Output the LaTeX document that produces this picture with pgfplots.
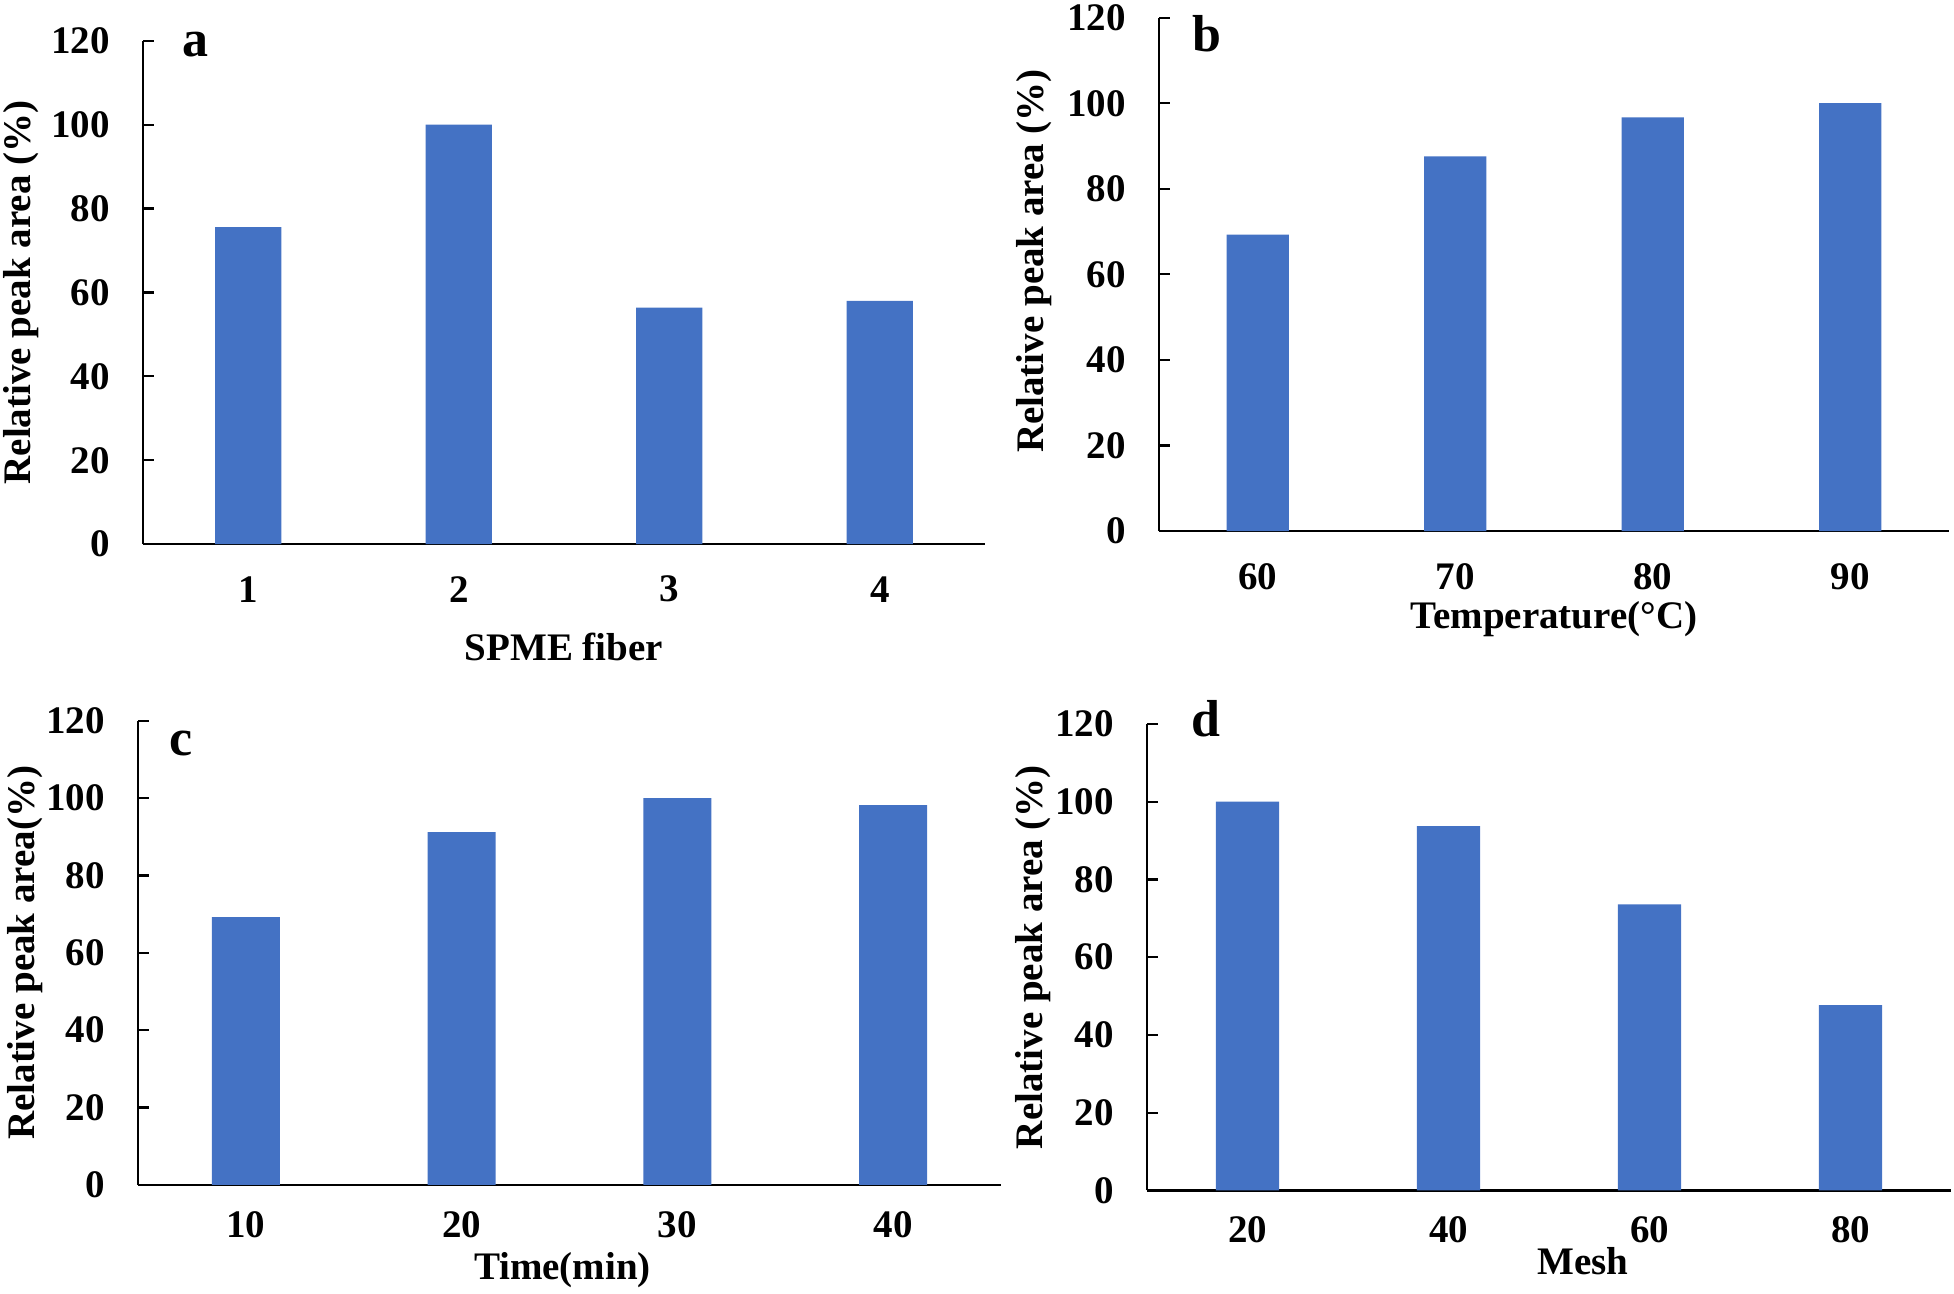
\documentclass[border=0pt]{standalone}
\usepackage{pgfplots}
\pgfplotsset{compat=1.18}
\usepackage{fontspec}
\setmainfont{Liberation Serif}
\definecolor{barblue}{HTML}{4472C4}
\newcommand{\tf}{\fontsize{19.5}{22}\selectfont\bfseries}
\newcommand{\lf}{\fontsize{26}{30}\selectfont\bfseries}
\pgfplotsset{
 panel/.style={
  scale only axis, clip=false,
  axis x line=bottom, axis y line=left,
  axis line style={-, line width=1.1pt, black},
  xmin=-0.5, xmax=3.5, ymin=0, ymax=120,
  ytick={0,20,...,120}, xtick={0,1,2,3},
  tick align=inside,
  x tick style={draw=none},
  y tick style={line width=1.1pt, black},
  major tick length=5.5pt,
  ybar, bar width=0.315, bar shift=0pt,
  /pgf/number format/assume math mode=true,
  tick label style={font=\tf},
  yticklabel style={anchor=east, inner sep=0pt, xshift=-16.5pt},
  label style={font=\tf},
  anchor=south west,
 },
 barstyle/.style={fill=barblue, draw=none},
}
\begin{document}
\begin{tikzpicture}
\path[use as bounding box] (0,0) rectangle (977pt,647pt);
% a
\begin{axis}[panel, at={(71.5pt,374.9pt)}, width=421pt, height=251.7pt,
  xticklabels={1,2,3,4},
  xticklabel style={anchor=center, yshift=-17pt},
  xlabel={SPME fiber},
  xlabel style={at={(axis description cs:0.5,0)}, anchor=north, inner sep=0pt, yshift=-44pt},
  ylabel={Relative peak area (\%)},
  ylabel style={at={([xshift=-61pt]axis description cs:0,0.5)}, anchor=center, inner sep=0pt},
]
\addplot[barstyle] coordinates {(0,75.6) (1,100) (2,56.4) (3,58.0)};
\node[anchor=base, font=\lf, inner sep=0pt] at (axis description cs:0.0624,0.968) {a};
\end{axis}
% b
\begin{axis}[panel, at={(579.5pt,381.45pt)}, width=395pt, height=256.7pt,
  xticklabels={60,70,80,90},
  xticklabel style={anchor=center, yshift=-17.3pt},
  xlabel={Temperature(°C)},
  xlabel style={at={(axis description cs:0.5,0)}, anchor=north, inner sep=0pt, yshift=-35pt},
  ylabel={Relative peak area (\%)},
  ylabel style={at={([xshift=-62.5pt,yshift=6.7pt]axis description cs:0,0.5)}, anchor=center, inner sep=0pt},
]
\addplot[barstyle] coordinates {(0,69.3) (1,87.6) (2,96.7) (3,100)};
\node[anchor=base, font=\lf, inner sep=0pt] at (axis description cs:0.0608,0.9345) {b};
\end{axis}
% c
\begin{axis}[panel, at={(69pt,54.55pt)}, width=431.5pt, height=232.1pt,
  xticklabels={10,20,30,40},
  xticklabel style={anchor=center, yshift=-14.5pt},
  xlabel={Time(min)},
  xlabel style={at={(axis description cs:0.5,0)}, anchor=north, inner sep=0pt, yshift=-33.5pt, xshift=-3.5pt},
  ylabel={Relative peak area(\%)},
  ylabel style={at={([xshift=-56.5pt]axis description cs:0,0.5)}, anchor=center, inner sep=0pt},
]
\addplot[barstyle] coordinates {(0,69.2) (1,91.2) (2,100) (3,98.2)};
\node[anchor=base, font=\lf, inner sep=0pt] at (axis description cs:0.0498,0.926) {c};
\end{axis}
% d
\begin{axis}[panel, at={(573.5pt,51.75pt)}, width=402pt, height=233.3pt,
  xticklabels={20,40,60,80},
  xticklabel style={anchor=center, yshift=-14.25pt},
  xlabel={Mesh},
  xlabel style={at={(axis description cs:0.5,0)}, anchor=north, inner sep=0pt, yshift=-28.5pt, xshift=17pt},
  ylabel={Relative peak area (\%)},
  ylabel style={at={([xshift=-57pt]axis description cs:0,0.5)}, anchor=center, inner sep=0pt},
]
\addplot[barstyle] coordinates {(0,100) (1,93.7) (2,73.6) (3,47.7)};
\node[anchor=base, font=\lf, inner sep=0pt] at (axis description cs:0.0728,0.972) {d};
\end{axis}
\end{tikzpicture}
\end{document}
